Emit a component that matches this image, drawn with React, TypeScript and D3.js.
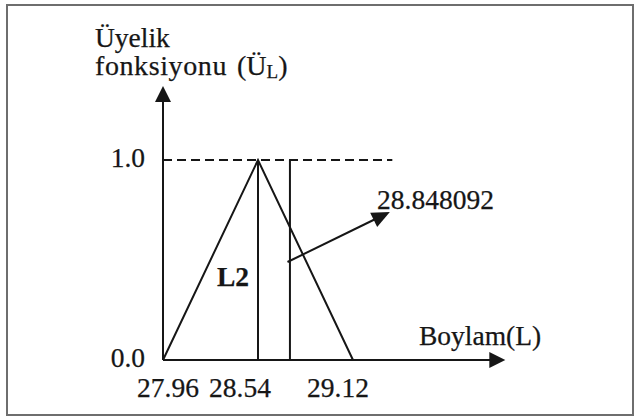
import React from "react";
import * as d3 from "d3";

// ---- data ----
const xTicks = [27.96, 28.54, 29.12];
const xTickLabels = ["27.96", "28.54", "29.12"];
const yTicks = [0, 1];
const yTickLabels = ["0.0", "1.0"];
// triangular membership function L2: [x, membership]
const triangleX = [27.96, 28.54, 29.12];
const triangleY = [0, 1, 0];
const peakValue = 28.54;
const resultLineValue = 28.735; // vertical line (defuzzified value, schematic position)
const resultLabel = "28.848092";
const setLabel = "L2";
const arrowFrom = [28.72, 0.49];
const arrowTo = [29.345, 0.74];
const dashedEnd = 29.36;
const xAxisEnd = 30.05;
const yAxisEnd = 1.37;
const yTitleLines = ["Üyelik", "fonksiyonu", "(Ü"];
const xTitle = "Boylam(L)";

const W = 637;
const H = 418;
const FONT = "'Liberation Serif', 'Times New Roman', serif";
const INK = "#161616";
const FS = 27.5;

export default function App() {
  const x = d3.scaleLinear().domain([27.96, 29.12]).range([163, 353]);
  const y = d3.scaleLinear().domain([0, 1]).range([360, 160]);

  const tri = d3
    .line<number>()
    .x((d) => x(d))
    .y((_, i) => y(triangleY[i]))(triangleX) as string;

  const x0 = x(xTicks[0]);
  const y0 = y(0);
  const xEnd = x(xAxisEnd);
  const yEnd = y(yAxisEnd);

  const head = (tx: number, ty: number, angle: number, len: number, half: number) => {
    const c = Math.cos(angle), s = Math.sin(angle);
    const bx = tx - c * len, by = ty - s * len;
    return `M${tx},${ty}L${bx - s * half},${by + c * half}L${bx + s * half},${by - c * half}Z`;
  };

  const ax1 = x(arrowFrom[0]), ay1 = y(arrowFrom[1]);
  const ax2 = x(arrowTo[0]), ay2 = y(arrowTo[1]);
  const ang = Math.atan2(ay2 - ay1, ax2 - ax1);
  const tickLabelDx = [5, -18, -15];
  const textStyle = { stroke: INK, strokeWidth: 0.25 };

  return (
    <svg
      width={W}
      height={H}
      style={{ position: "fixed", left: 0, top: 0, background: "#fff" }}
      fontFamily={FONT}
    >
      <rect x={7} y={5} width={626} height={410} fill="#fff" stroke="#6e6e6e" strokeWidth={2} />

      <g fontSize={FS} fill={INK} style={textStyle}>
        {/* y title */}
        <text x={95} y={47}>{yTitleLines[0]}</text>
        <text x={95} y={75} fontSize={28} letterSpacing={0.6}>{yTitleLines[1]}</text>
        <text x={237} y={75} fontSize={28}>
          {yTitleLines[2]}
          <tspan fontSize={19} dy={3}>L</tspan>
          <tspan dy={-3}>)</tspan>
        </text>

        <text x={377} y={209}>{resultLabel}</text>
        <text x={217} y={286} fontWeight="bold">{setLabel}</text>

        {/* y tick labels */}
        {yTicks.map((t, i) => (
          <text key={i} x={145} y={y(t) + 7} textAnchor="end">
            {yTickLabels[i]}
          </text>
        ))}

        {/* x tick labels */}
        {xTicks.map((t, i) => (
          <text key={i} x={x(t) + tickLabelDx[i]} y={397} textAnchor="middle">
            {xTickLabels[i]}
          </text>
        ))}

        <text x={419} y={345}>{xTitle}</text>
      </g>

      {/* axes */}
      <line x1={x0} y1={y0} x2={x0} y2={yEnd + 14} stroke={INK} strokeWidth={2} />
      <path d={head(x0, yEnd, -Math.PI / 2, 16, 8)} fill={INK} />
      <line x1={x0} y1={y0} x2={xEnd - 14} y2={y0} stroke={INK} strokeWidth={2} />
      <path d={head(xEnd, y0, 0, 16, 8)} fill={INK} />

      {/* dashed level 1.0 */}
      <line x1={x0} y1={y(1)} x2={x(dashedEnd)} y2={y(1)} stroke={INK} strokeWidth={2} strokeDasharray="9,5" />

      {/* triangle */}
      <path d={tri} fill="none" stroke={INK} strokeWidth={2} />
      <line x1={x(peakValue)} y1={y(1)} x2={x(peakValue)} y2={y0} stroke={INK} strokeWidth={2} />
      <line x1={x(resultLineValue)} y1={y(1)} x2={x(resultLineValue)} y2={y0} stroke={INK} strokeWidth={2} />

      {/* arrow */}
      <line x1={ax1} y1={ay1} x2={ax2 - Math.cos(ang) * 12} y2={ay2 - Math.sin(ang) * 12} stroke={INK} strokeWidth={2} />
      <path d={head(ax2, ay2, ang, 18, 8)} fill={INK} />
    </svg>
  );
}
